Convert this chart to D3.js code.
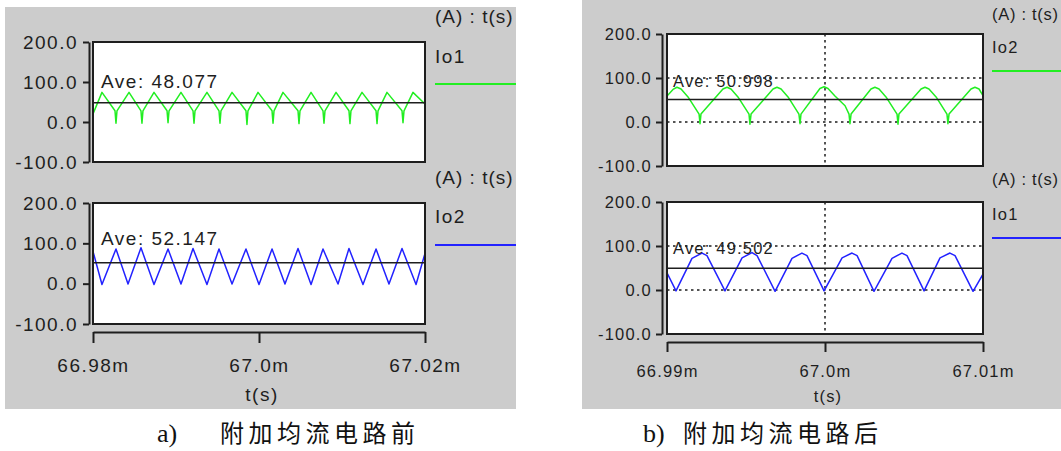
<!DOCTYPE html>
<html><head><meta charset="utf-8">
<script src="https://cdn.jsdelivr.net/npm/d3@7"></script>
<style>
html,body{margin:0;padding:0;background:#fff;}
svg{display:block;}
</style></head>
<body>
<svg id="chart" width="1061" height="451"></svg>
<script>
// ---------------- DATA ----------------
const yTicks = [-100, 0, 100, 200];
const yTickLabels = ["-100.0", "0.0", "100.0", "200.0"];

const xTicksA = [66.98, 67.0, 67.02];
const xTickLabelsA = ["66.98m", "67.0m", "67.02m"];
const xTicksB = [66.99, 67.0, 67.01];
const xTickLabelsB = ["66.99m", "67.0m", "67.01m"];

const axisUnit = "(A) : t(s)";
const xTitle = "t(s)";
const captionLabels = ["a)", "b)"];
const captionTexts = ["附加均流电路前", "附加均流电路后"];

// a) before: Io1 (green), Io2 (blue)
const seriesNamesA = ["Io1", "Io2"];
const aveA = [48.077, 52.147];
const aIo1Time = [66.98000,66.98108,66.98265,66.98277,66.98289,66.98434,66.98578,66.98590,66.98602,66.98735,
  66.98892,66.98904,66.98916,66.99060,66.99205,66.99217,66.99229,66.99373,66.99518,66.99530,66.99542,66.99675,
  66.99843,66.99855,66.99867,66.99988,67.00157,67.00169,67.00181,67.00289,67.00470,67.00482,67.00494,67.00627,
  67.00771,67.00783,67.00795,67.00928,67.01084,67.01096,67.01108,67.01241,67.01410,67.01422,67.01434,67.01542,
  67.01723,67.01735,67.01747,67.01855,67.02000];
const aIo1Value = [20,74,28,-3,28,74,28,-3,28,74,
  28,-2,28,74,28,-3,28,74,28,-3,28,74,
  28,-6,28,74,28,-3,28,74,28,-4,28,74,
  28,-3,28,74,28,-4,28,74,28,-4,28,74,
  28,-2,28,74,45];
const aIo2Time = [66.98000,66.98108,66.98277,66.98422,66.98578,66.98735,66.98904,66.99060,66.99205,66.99373,
  66.99518,66.99675,66.99843,67.00000,67.00157,67.00313,67.00470,67.00627,67.00771,67.00952,67.01084,67.01253,
  67.01410,67.01566,67.01723,67.01892,67.02000];
const aIo2Value = [80,-2,86,-1,89,-2,86,-1,87,-2,
  86,-1,86,-2,86,-1,87,-2,86,-1,87,-2,
  86,-1,87,-2,75];

// b) after: Io2 (green), Io1 (blue)
const seriesNamesB = ["Io2", "Io1"];
const aveB = [50.998, 49.502];
const bIo2Time = [66.99000,66.99038,66.99063,66.99089,66.99133,66.99203,66.99209,66.99215,
  66.99354,66.99380,66.99405,66.99449,66.99519,66.99525,66.99532,
  66.99671,66.99696,66.99722,66.99766,66.99835,66.99842,66.99848,
  66.99968,66.99994,67.00019,67.00063,67.00127,67.00152,67.00158,67.00165,
  67.00291,67.00316,67.00342,67.00386,67.00456,67.00462,67.00468,
  67.00608,67.00633,67.00658,67.00703,67.00772,67.00778,67.00785,
  67.00924,67.00949,67.00975,67.01000];
const bIo2Value = [59,74,79,75,57,18,-4,18,
  75,79,75,57,18,-5,18,
  75,79,75,57,18,-4,18,
  76,80,76,59,37,18,-4,18,
  75,79,75,57,18,-5,18,
  75,79,75,57,18,-4,18,
  75,79,75,60];
const bIo1Time = [66.99000,66.99057,66.99158,66.99222,66.99253,66.99367,66.99475,66.99538,66.99570,
  66.99684,66.99791,66.99854,66.99886,66.99994,67.00108,67.00171,67.00203,67.00310,67.00424,
  67.00487,67.00519,67.00627,67.00728,67.00791,67.00823,67.00937,67.01000];
const bIo1Value = [39,-2,72,84,78,-2,73,85,78,
  -3,72,84,78,-2,73,84,78,-3,72,
  84,78,-2,73,84,78,-3,36];

// ---------------- DRAWING ----------------
const FONT = "'Liberation Sans', Arial, Helvetica, sans-serif";
const INK = "#1e1e1e";
const GREEN = "#22ee22";
const BLUE = "#2222ff";
const svg = d3.select("#chart");

svg.append("rect").attr("x", 5).attr("y", 7).attr("width", 511).attr("height", 402).attr("fill", "#cccccc");
svg.append("rect").attr("x", 582).attr("y", 0).attr("width", 479).attr("height", 409).attr("fill", "#cccccc");

let clipId = 0;
function panel(c) {
  const x = d3.scaleLinear().domain(c.xDomain).range([c.x0, c.x1]);
  const y = d3.scaleLinear().domain([-100, 200]).range([c.yBot, c.yTop]);
  const g = svg.append("g");

  g.append("rect").attr("x", c.x0).attr("y", c.yTop).attr("width", c.x1 - c.x0)
    .attr("height", c.yBot - c.yTop).attr("fill", "#fff");

  const id = "clip" + (clipId++);
  g.append("clipPath").attr("id", id).append("rect")
    .attr("x", c.x0).attr("y", c.yTop).attr("width", c.x1 - c.x0).attr("height", c.yBot - c.yTop);
  const inner = g.append("g").attr("clip-path", `url(#${id})`);

  if (c.grid) {
    [0, 100].forEach(v => inner.append("line")
      .attr("x1", c.x0).attr("x2", c.x1).attr("y1", y(v)).attr("y2", y(v))
      .attr("stroke", INK).attr("stroke-width", 1.5).attr("stroke-dasharray", "2.5,3.5"));
    inner.append("line").attr("x1", x(67.0)).attr("x2", x(67.0)).attr("y1", c.yTop).attr("y2", c.yBot)
      .attr("stroke", INK).attr("stroke-width", 1.5).attr("stroke-dasharray", "2.5,3.5");
  }

  const pts = c.times.map((t, i) => [t, c.values[i]]);
  inner.append("path").datum(pts)
    .attr("d", d3.line().x(d => x(d[0])).y(d => y(d[1])))
    .attr("fill", "none").attr("stroke", c.color).attr("stroke-width", 1.5)
    .attr("stroke-linejoin", "round");

  inner.append("line").attr("x1", c.x0).attr("x2", c.x1).attr("y1", y(c.ave)).attr("y2", y(c.ave))
    .attr("stroke", INK).attr("stroke-width", 1.5);

  g.append("text").attr("x", c.aveX).attr("y", c.aveY).attr("font-family", FONT)
    .attr("font-size", c.fs).style("letter-spacing", c.ls + "px").attr("fill", INK)
    .text("Ave: " + d3.format(".3f")(c.ave));

  g.append("rect").attr("x", c.x0).attr("y", c.yTop).attr("width", c.x1 - c.x0)
    .attr("height", c.yBot - c.yTop).attr("fill", "none").attr("stroke", INK).attr("stroke-width", 2);

  const ya = g.append("g").attr("transform", `translate(${c.yAxisX},0)`)
    .call(d3.axisLeft(y).tickValues(yTicks)
      .tickFormat(d => yTickLabels[yTicks.indexOf(d)])
      .tickSizeInner(c.yTick).tickSizeOuter(0).tickPadding(c.yPad));
  ya.attr("font-family", FONT).attr("font-size", c.fs);
  ya.selectAll("path,line").attr("stroke", INK).attr("stroke-width", 2);
  ya.selectAll("text").attr("fill", INK).style("letter-spacing", c.ls + "px");

  if (c.xAxisY) {
    const xa = g.append("g").attr("transform", `translate(0,${c.xAxisY})`)
      .call(d3.axisBottom(x).tickValues(c.xTicks)
        .tickFormat((d, i) => c.xLabels[i]).tickSizeInner(c.xTick).tickSizeOuter(0));
    xa.attr("font-family", FONT).attr("font-size", c.fs);
    xa.selectAll("path,line").attr("stroke", INK).attr("stroke-width", 2);
    xa.selectAll("text").attr("fill", INK).attr("y", c.xLabelDy).attr("dy", null)
      .style("letter-spacing", c.ls + "px");
    g.append("text").attr("x", c.titleX).attr("y", c.titleY).attr("text-anchor", "middle")
      .attr("font-family", FONT).attr("font-size", c.fs).style("letter-spacing", c.ls + "px")
      .attr("fill", INK).text(xTitle);
  }

  g.append("text").attr("x", c.legX).attr("y", c.unitY).attr("font-family", FONT)
    .attr("font-size", c.fs).style("letter-spacing", (c.ls - 0.5) + "px").attr("fill", INK).text(axisUnit);
  g.append("text").attr("x", c.legX).attr("y", c.nameY).attr("font-family", FONT)
    .attr("font-size", c.fs).style("letter-spacing", c.ls + "px").attr("fill", INK).text(c.name);
  g.append("line").attr("x1", c.legX).attr("x2", c.legX2).attr("y1", c.legLineY).attr("y2", c.legLineY)
    .attr("stroke", c.color).attr("stroke-width", 2);
}

const A = {xDomain: [66.98, 67.02], x0: 93, x1: 425, yAxisX: 89, fs: 19, ls: 1.5, yTick: 6, yPad: 5,
  xTicks: xTicksA, xLabels: xTickLabelsA, legX: 435, legX2: 516, grid: false, aveX: 101};
const B = {xDomain: [66.99, 67.01], x0: 667, x1: 983, yAxisX: 662, fs: 16.5, ls: 1.2, yTick: 6, yPad: 4,
  xTicks: xTicksB, xLabels: xTickLabelsB, legX: 992, legX2: 1061, grid: true, aveX: 673};

panel(Object.assign({}, A, {yTop: 42, yBot: 162, times: aIo1Time, values: aIo1Value, color: GREEN,
  ave: aveA[0], aveY: 88, unitY: 23, nameY: 63, legLineY: 84, name: seriesNamesA[0]}));
panel(Object.assign({}, A, {yTop: 203, yBot: 324, times: aIo2Time, values: aIo2Value, color: BLUE,
  ave: aveA[1], aveY: 245, unitY: 184, nameY: 223, legLineY: 245, name: seriesNamesA[1],
  xAxisY: 332, xTick: 11, xLabelDy: 40, titleX: 262, titleY: 401}));
panel(Object.assign({}, B, {yTop: 34, yBot: 166, times: bIo2Time, values: bIo2Value, color: GREEN,
  ave: aveB[0], aveY: 87, unitY: 20, nameY: 53, legLineY: 71, name: seriesNamesB[0]}));
panel(Object.assign({}, B, {yTop: 202, yBot: 334, times: bIo1Time, values: bIo1Value, color: BLUE,
  ave: aveB[1], aveY: 254, unitY: 185, nameY: 220, legLineY: 238, name: seriesNamesB[1],
  xAxisY: 342, xTick: 10, xLabelDy: 35, titleX: 828, titleY: 402}));

// captions
[[157, 220], [643, 683]].forEach((pos, i) => {
  const t = svg.append("text").attr("y", 442).attr("fill", "#111");
  t.append("tspan").attr("x", pos[0]).attr("font-size", 26)
    .attr("font-family", "'Liberation Serif', 'Times New Roman', serif").text(captionLabels[i]);
  t.append("tspan").attr("x", pos[1]).attr("font-size", 24)
    .attr("font-family", "'Noto Sans CJK SC', sans-serif")
    .style("letter-spacing", "4.5px").text(captionTexts[i]);
});
</script>
</body></html>
